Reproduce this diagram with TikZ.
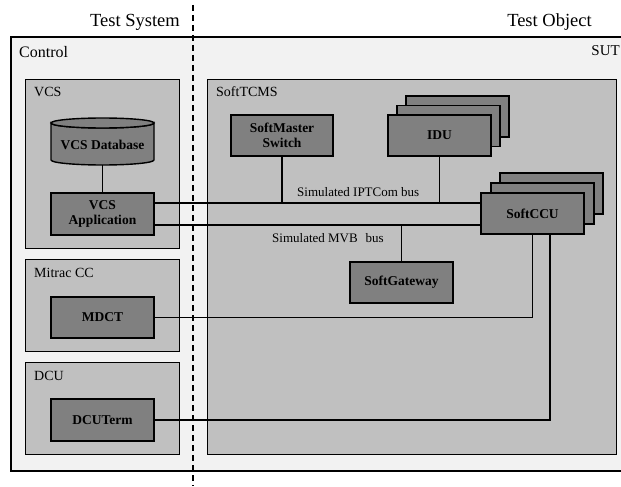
\documentclass[tikz,border=0pt]{standalone}
\usepackage{fontspec}
\setmainfont{Liberation Serif}
\definecolor{cLight}{HTML}{F2F2F2}
\definecolor{cMid}{HTML}{C0C0C0}
\definecolor{cDark}{HTML}{808080}
\begin{document}
\begin{tikzpicture}[x=1pt,y=-1pt,
  outerbox/.style={draw=black,line width=1.8pt,fill=cLight},
  groupbox/.style={draw=black,line width=1.4pt,fill=cMid},
  darkbox/.style={draw=black,line width=1.4pt,fill=cDark,font=\fontsize{13.5}{15}\selectfont\bfseries,align=center,inner sep=0pt},
  conn/.style={draw=black,line width=1.2pt},
  grouplbl/.style={font=\fontsize{14}{16}\selectfont,anchor=west,inner sep=0pt},
  buslbl/.style={font=\fontsize{13}{15}\selectfont,anchor=west,inner sep=0pt},
  headlbl/.style={font=\fontsize{18.5}{20}\selectfont,inner sep=0pt},
  divider/.style={draw=black,line width=1.6pt,dash pattern=on 6pt off 4pt}
]
\clip (0,0) rectangle (621,487);
\fill[white] (0,0) rectangle (621,487);

% outer box
\node[outerbox,anchor=north west,minimum width=640pt,minimum height=434pt,inner sep=0pt] (sut) at (10,36) {};
\node[font=\fontsize{16}{18}\selectfont,anchor=west,inner sep=0pt] (ctrllbl) at (19,52) {Control};
\node[font=\fontsize{15}{17}\selectfont,anchor=east,inner sep=0pt] (sutlbl) at (620,51) {SUT};

% group boxes
\node[groupbox,anchor=north west,minimum width=154pt,minimum height=169pt,inner sep=0pt] (vcsgrp) at (25,79) {};
\node[groupbox,anchor=north west,minimum width=154pt,minimum height=92pt,inner sep=0pt] (mitgrp) at (25,259) {};
\node[groupbox,anchor=north west,minimum width=154pt,minimum height=92pt,inner sep=0pt] (dcugrp) at (25,362) {};
\node[groupbox,anchor=north west,minimum width=409pt,minimum height=375pt,inner sep=0pt] (tcmsgrp) at (207,79) {};

\node[grouplbl] (vcslbl) at (34,92) {VCS};
\node[grouplbl] (mitlbl) at (34,273) {Mitrac CC};
\node[grouplbl] (dculbl) at (34,376) {DCU};
\node[grouplbl] (tcmslbl) at (216,92) {SoftTCMS};

% VCS database cylinder
\path[draw=black,line width=1.4pt,fill=cDark] (51,123) -- (51,160) arc[start angle=180,end angle=0,x radius=51.5,y radius=5] -- (154,123) arc[start angle=0,end angle=180,x radius=51.5,y radius=5] -- cycle;
\path[draw=black,line width=1.4pt,fill=cDark] (102.5,123) ellipse[x radius=51.5,y radius=5];
\node[minimum width=103pt,minimum height=47pt,inner sep=0pt] (vcsdb) at (102.5,141.5) {};
\node[font=\fontsize{13.5}{15}\selectfont\bfseries,inner sep=0pt] (vcsdbtxt) at (102.5,145) {VCS Database};

% dark boxes
\node[darkbox,minimum width=103pt,minimum height=42pt] (vcsapp) at (102.5,214) {VCS\\Application};
\node[darkbox,minimum width=103pt,minimum height=41pt] (mdct) at (102.5,317.5) {MDCT};
\node[darkbox,minimum width=103pt,minimum height=42pt] (dcuterm) at (102.5,420) {DCUTerm};
\node[darkbox,minimum width=102pt,minimum height=41pt] (softms) at (282,135.5) {SoftMaster\\Switch};

\node[darkbox,minimum width=103pt,minimum height=41pt] (idu3) at (457.5,116.5) {};
\node[darkbox,minimum width=103pt,minimum height=41pt] (idu2) at (448.5,126) {};
\node[darkbox,minimum width=103pt,minimum height=41pt] (idu) at (439.5,135.5) {IDU};

\node[darkbox,minimum width=103pt,minimum height=41pt] (ccu3) at (551.5,193.5) {};
\node[darkbox,minimum width=103pt,minimum height=41pt] (ccu2) at (542.5,203.5) {};
\node[darkbox,minimum width=103pt,minimum height=41pt] (softccu) at (532.5,213.5) {SoftCCU};

\node[darkbox,minimum width=103pt,minimum height=41pt] (softgw) at (401.5,282.5) {SoftGateway};

% bus levels
\coordinate (ipt) at (0,203);
\coordinate (mvb) at (0,225);

% connectors
\draw[conn] (vcsdb.south) -- (vcsapp.north);
\draw[conn] (vcsapp.east |- ipt) -- (softccu.west |- ipt);
\draw[conn] (vcsapp.east |- mvb) -- (softccu.west |- mvb);
\draw[conn] (softms.south) -- (softms.south |- ipt);
\draw[conn] (idu.south) -- (idu.south |- ipt);
\draw[conn] (softgw.north) -- (softgw.north |- mvb);
\draw[conn] (mdct.east) -| (softccu.south);
\coordinate (ccuR) at ([xshift=17.5pt]softccu.south);
\draw[conn] (dcuterm.east) -| (ccuR);

\node[buslbl] (iptlbl) at (297,192) {Simulated IPTCom bus};
\node[buslbl] (mvblbl) at (272,238) {Simulated MVB\hspace{0.6em}bus};

% headings and divider
\node[headlbl] (tsys) at (135,22) {Test System};
\node[headlbl] (tobj) at (549.5,22) {Test Object};
\coordinate (divtop) at (193,5);
\coordinate (divbot) at (193,486);
\draw[divider] (divtop) -- (divbot);
\end{tikzpicture}
\end{document}
